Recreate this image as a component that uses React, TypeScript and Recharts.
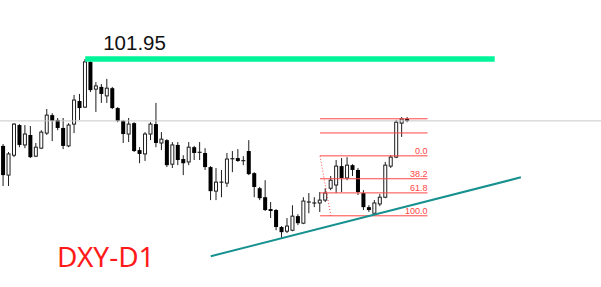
import React from 'react';
import { ComposedChart, Bar, XAxis, YAxis, ReferenceLine } from 'recharts';

// DXY daily candles, oldest first
const opens = [
  99.24, 98.33, 98.95, 99.89, 99.27, 99.58, 98.92, 99.17, 99.64, 100.2,
  100.05, 99.8, 99.24, 99.92, 100.64, 100.45, 101.86, 101.01, 101.08, 100.8,
  101.04, 100.42, 100.02, 99.61, 99.95, 99.11, 98.99, 99.61, 99.92, 99.33,
  99.42, 98.67, 99.27, 98.83, 98.74, 99.2, 99.04, 99.02, 98.58, 97.83,
  98.11, 98.08, 98.83, 98.86, 98.77, 99.08, 98.39, 97.92, 97.64, 97.27,
  97.24, 96.71, 96.58, 96.61, 97.05, 96.83, 97.49, 97.46, 97.46, 97.55,
  97.92, 98.02, 98.61, 98.24, 98.64, 98.49, 97.77, 97.33, 97.14, 97.43,
  97.64, 98.61, 98.89, 99.95, 100.08,
];
const highs = [
  99.3, 99.05, 99.95, 99.92, 99.89, 99.86, 99.33, 99.73, 100.39, 100.26,
  100.11, 100.11, 99.95, 100.83, 100.86, 101.95, 101.89, 101.23, 101.17, 101.33,
  101.08, 100.45, 100.05, 100.11, 99.98, 99.2, 99.67, 99.98, 100.58, 99.67,
  99.45, 99.36, 99.36, 98.95, 99.36, 99.24, 99.36, 99.17, 98.61, 98.55,
  98.49, 99.02, 99.08, 99.14, 98.92, 99.42, 98.42, 97.96, 98.17, 97.49,
  97.27, 96.74, 96.99, 97.39, 97.11, 97.64, 97.77, 97.64, 97.8, 97.92,
  98.3, 98.8, 98.86, 98.89, 98.67, 98.55, 97.86, 97.39, 97.55, 97.74,
  98.74, 98.95, 100.05, 100.14, 100.14,
];
const lows = [
  97.99, 97.99, 98.89, 99.2, 99.17, 98.86, 98.89, 99.14, 99.58, 99.39,
  99.73, 99.14, 99.2, 99.64, 100.05, 100.42, 100.92, 100.3, 100.58, 100.58,
  100.39, 99.98, 99.33, 99.36, 99.05, 98.7, 98.77, 99.42, 99.2, 99.11,
  98.58, 98.55, 98.64, 98.33, 98.64, 98.8, 98.8, 98.49, 97.55, 97.55,
  97.64, 97.96, 98.42, 98.74, 98.64, 98.33, 97.64, 97.55, 97.21, 96.99,
  96.61, 96.36, 96.52, 96.58, 96.77, 96.8, 97.14, 97.33, 97.18, 97.49,
  97.86, 97.77, 97.8, 98.17, 98.3, 97.71, 97.24, 97.18, 97.08, 97.36,
  97.61, 98.55, 98.86, 99.52, 99.98,
];
const closes = [
  98.33, 98.99, 99.92, 99.27, 99.61, 98.89, 99.2, 99.67, 100.2, 100.02,
  99.8, 99.24, 99.89, 100.67, 100.42, 101.86, 100.98, 101.11, 100.86, 101.04,
  100.42, 100.02, 99.61, 99.92, 99.08, 98.99, 99.61, 99.92, 99.33, 99.45,
  98.64, 99.27, 98.8, 98.7, 99.2, 99.02, 99.02, 98.58, 97.83, 98.11,
  98.1, 98.83, 98.84, 98.77, 98.78, 98.36, 97.96, 97.61, 97.24, 97.21,
  96.71, 96.55, 96.74, 97.05, 96.83, 97.52, 97.48, 97.45, 97.55, 97.77,
  98.17, 98.61, 98.24, 98.64, 98.49, 97.8, 97.33, 97.24, 97.46, 97.64,
  98.64, 98.89, 99.98, 100.08, 100.02,
];

// Marked levels and drawings (bar index, price)
const peakLevel = 101.95;
const peakLineFrom = 15;
const peakLineTo = 90;
const lastPrice = 100.02;
const trendFrom = { i: 38, price: 95.8 };
const trendTo = { i: 94.8, price: 98.26 };
const fibHigh = { i: 58, price: 98.93 };
const fibLow = { i: 60, price: 97.06 };
const fibEnd = 77.7;
const fibRatios = [-0.618, -0.382, 0, 0.382, 0.618, 1];
const fibLabels = ['', '', '0.0', '38.2', '61.8', '100.0'];

const candles = opens.map((open, i) => ({
  i,
  open,
  high: highs[i],
  low: lows[i],
  close: closes[i],
}));

const fibLevels = fibRatios.map((r, k) => ({
  price: fibHigh.price - r * (fibHigh.price - fibLow.price),
  label: fibLabels[k],
}));

const W = 601;
const H = 287;
const BAR_STEP = 5.46;
const FIRST_X = 3.3;
const X_MIN = -FIRST_X / BAR_STEP;
const X_MAX = X_MIN + W / BAR_STEP;

const FIB_RED = '#ff4545';

const Candle = (props: any) => {
  const { x, y, width, height, payload } = props;
  if (payload == null || x == null) return null;
  const { open, close, high, low } = payload;
  const cx = x + width / 2;
  const span = high - low || 1;
  const toY = (v: number) => y + ((high - v) / span) * height;
  const top = toY(Math.max(open, close));
  const bottom = toY(Math.min(open, close));
  const up = close >= open;
  const ink = '#1e1e1e';
  const bodyH = bottom - top;
  return (
    <g>
      <line x1={cx} x2={cx} y1={y} y2={y + height} stroke={ink} strokeWidth={1} />
      {bodyH < 1.2 ? (
        <line x1={cx - 2} x2={cx + 2} y1={top} y2={top} stroke={ink} strokeWidth={1.2} />
      ) : up ? (
        <rect x={cx - 1.5} y={top} width={3} height={bodyH} fill="#ffffff" stroke={ink} strokeWidth={1} />
      ) : (
        <rect x={cx - 2} y={top} width={4} height={bodyH} fill="#000000" />
      )}
    </g>
  );
};

const fibLabel = (text: string) => (p: any) => {
  const vb = p.viewBox;
  if (!vb || !text) return null;
  return (
    <text
      x={vb.x + vb.width}
      y={vb.y - 2}
      textAnchor="end"
      fontFamily="'Liberation Sans', Arial, sans-serif"
      fontSize={9}
      fill={FIB_RED}
    >
      {text}
    </text>
  );
};

const peakLabel = (p: any) => {
  const vb = p.viewBox;
  if (!vb) return null;
  return (
    <text
      x={vb.x + 18}
      y={vb.y - 9}
      fontFamily="'Liberation Sans', Arial, sans-serif"
      fontSize={20.5}
      fill="#111111"
    >
      {peakLevel.toFixed(2)}
    </text>
  );
};

export default function App() {
  return (
    <div style={{ position: 'absolute', left: 0, top: 0, width: W, height: H, background: '#ffffff' }}>
      <ComposedChart
        width={W}
        height={H}
        data={candles}
        margin={{ top: 0, right: 0, bottom: 0, left: 0 }}
        barCategoryGap={0}
        barGap={0}
      >
        <XAxis dataKey="i" type="number" domain={[X_MIN, X_MAX]} allowDataOverflow hide />
        <YAxis type="number" domain={[94.84, 103.79]} allowDataOverflow hide />
        <ReferenceLine y={lastPrice} stroke="#c8c8c8" strokeWidth={1} />
        {fibLevels.map((lv, k) => (
          <ReferenceLine
            key={k}
            segment={[
              { x: fibHigh.i, y: lv.price },
              { x: fibEnd, y: lv.price },
            ]}
            stroke={FIB_RED}
            strokeWidth={1}
            label={lv.label ? { content: fibLabel(lv.label) } : undefined}
          />
        ))}
        <ReferenceLine
          segment={[
            { x: fibHigh.i, y: fibHigh.price },
            { x: fibLow.i, y: fibLow.price },
          ]}
          stroke={FIB_RED}
          strokeWidth={1}
          strokeDasharray="1 2"
        />
        <Bar
          dataKey={(d: any) => [d.low, d.high]}
          shape={Candle}
          isAnimationActive={false}
        />
        <ReferenceLine
          segment={[
            { x: trendFrom.i, y: trendFrom.price },
            { x: trendTo.i, y: trendTo.price },
          ]}
          stroke="#16918f"
          strokeWidth={2}
        />
        <ReferenceLine
          segment={[
            { x: peakLineFrom, y: peakLevel },
            { x: peakLineTo, y: peakLevel },
          ]}
          stroke="#00f59b"
          strokeWidth={5.5}
          label={{ content: peakLabel }}
        />
        <text
          x={57}
          y={267}
          fontFamily="'Noto Sans', sans-serif"
          fontSize={28}
          fill="#ff1a1a"
        >
          DXY-D1
        </text>
      </ComposedChart>
    </div>
  );
}
